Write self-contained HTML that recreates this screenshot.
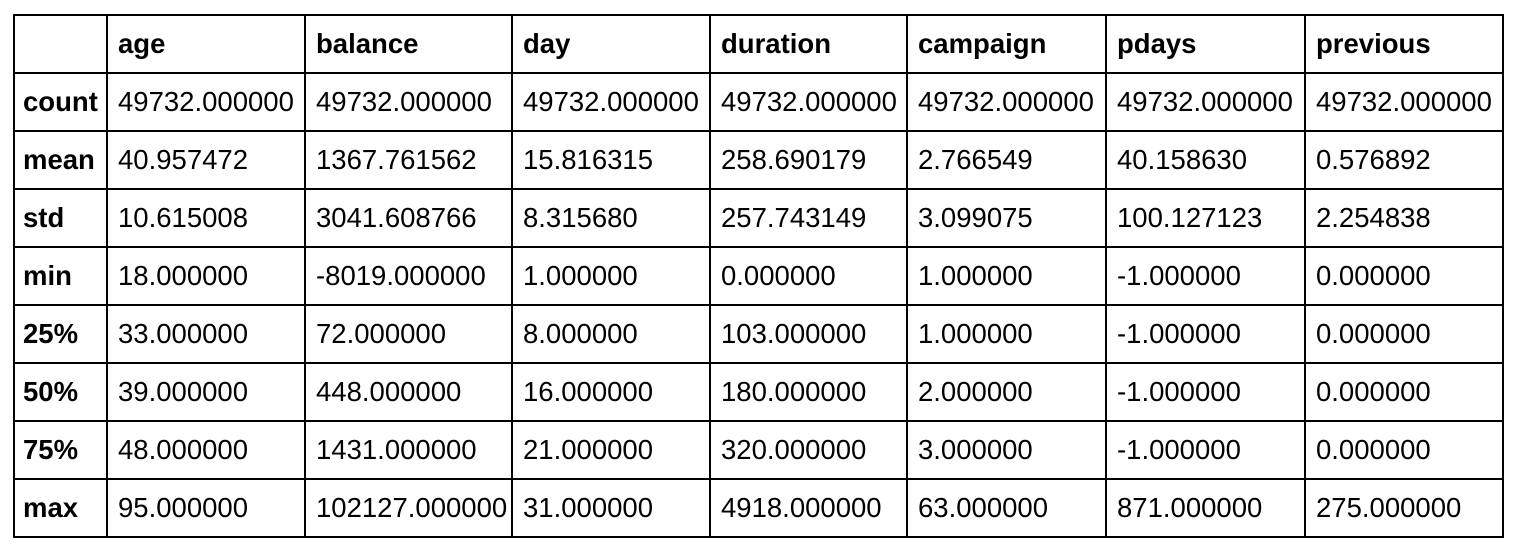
<!DOCTYPE html>
<html><head><meta charset="utf-8"><style>
body{margin:0;width:1518px;height:552px;background:#fff;position:relative;overflow:hidden;font-family:"Liberation Sans",Arial,sans-serif;color:#000}
.c{position:absolute;box-sizing:border-box;border:2px solid #000;display:flex;align-items:center;padding-left:10px;font-size:27.5px;white-space:nowrap}
.h{font-weight:bold}
</style></head><body>
<div id="t"></div>
<script>
const cols=['','age','balance','day','duration','campaign','pdays','previous'];
const rows=['count','mean','std','min','25%','50%','75%','max'];
const vals=[
['49732.000000','49732.000000','49732.000000','49732.000000','49732.000000','49732.000000','49732.000000'],
['40.957472','1367.761562','15.816315','258.690179','2.766549','40.158630','0.576892'],
['10.615008','3041.608766','8.315680','257.743149','3.099075','100.127123','2.254838'],
['18.000000','-8019.000000','1.000000','0.000000','1.000000','-1.000000','0.000000'],
['33.000000','72.000000','8.000000','103.000000','1.000000','-1.000000','0.000000'],
['39.000000','448.000000','16.000000','180.000000','2.000000','-1.000000','0.000000'],
['48.000000','1431.000000','21.000000','320.000000','3.000000','-1.000000','0.000000'],
['95.000000','102127.000000','31.000000','4918.000000','63.000000','871.000000','275.000000']];
const xs=[13,106,304,511,709,906,1105,1304,1502];
const ys=[14,72,130,188,246,304,362,420,478,536];
const t=document.getElementById('t');
function cell(r,c,text,bold,name){
  const d=document.createElement('div');
  d.className='c'+(bold?' h':'');
  d.style.left=xs[c]+'px';d.style.top=ys[r]+'px';
  d.style.width=(xs[c+1]-xs[c]+2)+'px';d.style.height=(ys[r+1]-ys[r]+2)+'px';
  if(c===0&&r>0){d.style.paddingLeft='8px';}
  d.textContent=text;
  
  
  t.appendChild(d);
}
cols.forEach((h,c)=>cell(0,c,h,true,c?'header-'+h:'header-corner'));
rows.forEach((rn,r)=>{
  cell(r+1,0,rn,true,'row-label-'+rn.replace('%','pct'));
  vals[r].forEach((v,c)=>cell(r+1,c+1,v,false,'cell-'+rn.replace('%','pct')+'-'+cols[c+1]));
});
</script>
</body></html>
